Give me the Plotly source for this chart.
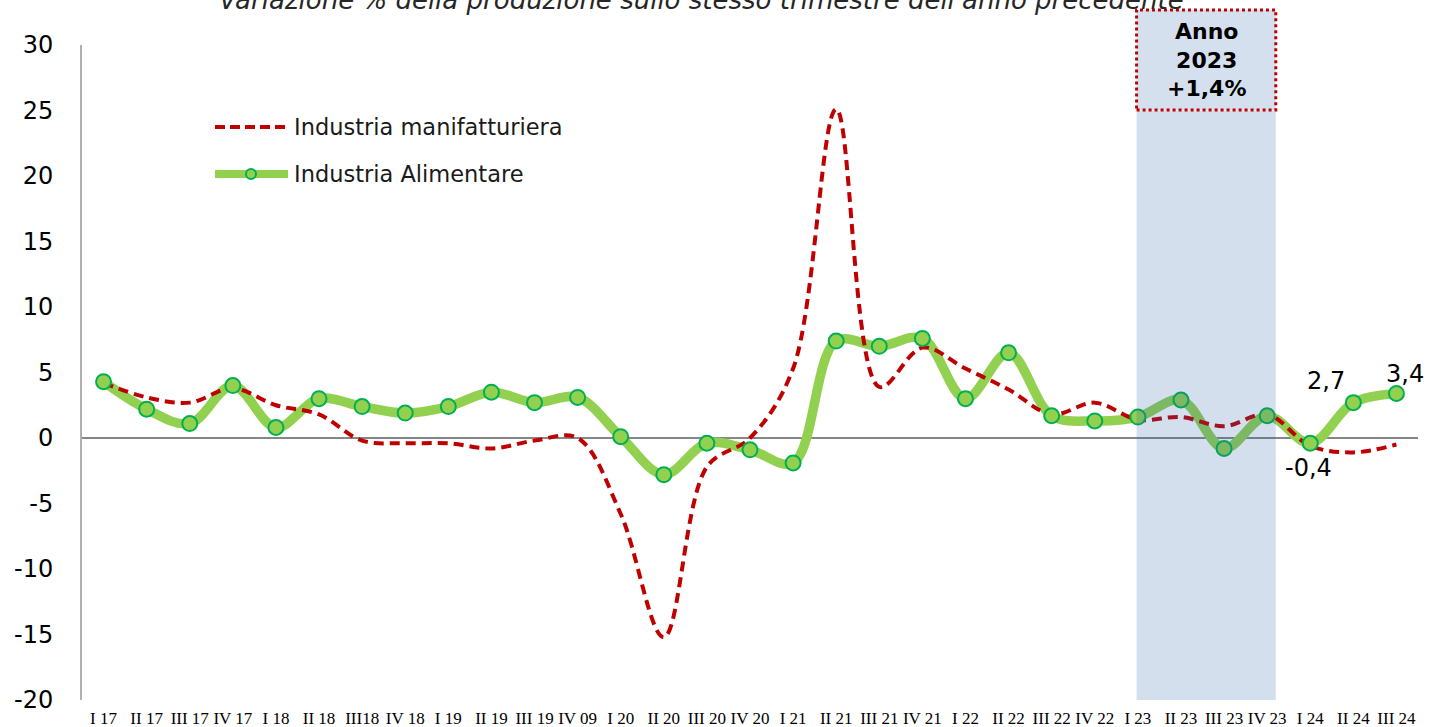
import plotly.graph_objects as go

# ---------------- data ----------------
categories = ["I 17", "II 17", "III 17", "IV 17", "I 18", "II 18", "III18", "IV 18",
              "I 19", "II 19", "III 19", "IV 09", "I 20", "II 20", "III 20", "IV 20",
              "I 21", "II 21", "III 21", "IV 21", "I 22", "II 22", "III 22", "IV 22",
              "I 23", "II 23", "III 23", "IV 23", "I 24", "II 24", "III 24"]

manifatturiera = [4.2, 3.1, 2.7, 3.8, 2.5, 1.8, -0.2, -0.4, -0.4, -0.8, -0.2, 0.0,
                  -5.8, -15.2, -2.2, 0.0, 5.3, 25.1, 3.9, 6.9, 5.3, 3.7, 1.8, 2.7,
                  1.4, 1.6, 0.9, 1.8, -0.6, -1.1, -0.5]

alimentare = [4.3, 2.2, 1.1, 4.0, 0.8, 3.0, 2.4, 1.9, 2.4, 3.5, 2.7, 3.1,
              0.1, -2.8, -0.4, -0.9, -1.9, 7.4, 7.0, 7.6, 3.0, 6.5, 1.7, 1.3,
              1.6, 2.9, -0.8, 1.7, -0.4, 2.7, 3.4]

y_tickvals = [30, 25, 20, 15, 10, 5, 0, -5, -10, -15, -20]
y_ticktext = ["30", "25", "20", "15", "10", "5", "0", "-5", "-10", "-15", "-20"]

series_names = ["Industria manifatturiera", "Industria Alimentare"]
title_text = "Variazione % della produzione sullo stesso trimestre dell'anno precedente"
box_text = "Anno<br>2023<br>+1,4%"
labelled_points = ["I 24", "II 24", "III 24"]
label_shifts = {"I 24": (-2, -25), "II 24": (-27, 22), "III 24": (9, 19)}

RED = "#C00000"
GREEN = "#92D050"
GREEN_EDGE = "#00B050"
FONT = "DejaVu Sans"

W, H = 1429, 727
ML, MR, MT, MB = 82, 11, 45, 27
PW, PH = W - ML - MR, H - MT - MB


def px(xp):
    return (xp - ML) / PW


def py(yp):
    return (H - MB - yp) / PH


fig = go.Figure()

# green thick line (below the red dashed line)
fig.add_trace(go.Scatter(x=categories, y=alimentare, mode="lines",
                         line=dict(color=GREEN, width=9.5, shape="spline", smoothing=1),
                         name=series_names[1], showlegend=False, hoverinfo="skip"))
# red dashed line
fig.add_trace(go.Scatter(x=categories, y=manifatturiera, mode="lines",
                         line=dict(color=RED, width=4, dash="10px,6px",
                                   shape="spline", smoothing=1),
                         name=series_names[0], showlegend=False))
# green markers on top
fig.add_trace(go.Scatter(x=categories, y=alimentare, mode="markers",
                         marker=dict(color=GREEN, size=15,
                                     line=dict(color=GREEN_EDGE, width=2)),
                         name=series_names[1], showlegend=False))

shapes = []
# shaded 2023 band (semi-transparent, above traces)
shapes.append(dict(type="rect", xref="x", yref="y", x0=23.97, x1=27.2, y0=-20, y1=25,
                   fillcolor="rgba(40,95,170,0.2)", line=dict(width=0), layer="above"))
# annotation box
shapes.append(dict(type="rect", xref="x", yref="paper", x0=23.97, x1=27.2,
                   y0=py(110), y1=py(10), fillcolor="#D5E0EE",
                   line=dict(color=RED, width=3, dash="dot"), layer="above"))
# custom legend
shapes.append(dict(type="line", xref="paper", yref="paper", x0=px(215), x1=px(288),
                   y0=py(127), y1=py(127), line=dict(color=RED, width=4, dash="10px,5px")))
shapes.append(dict(type="line", xref="paper", yref="paper", x0=px(215), x1=px(288),
                   y0=py(174), y1=py(174), line=dict(color=GREEN, width=8)))
shapes.append(dict(type="circle", xref="paper", yref="paper", x0=px(246), x1=px(256),
                   y0=py(179), y1=py(169), fillcolor=GREEN,
                   line=dict(color=GREEN_EDGE, width=2)))

annotations = []
annotations.append(dict(xref="paper", yref="paper", x=px(292), y=py(127), xanchor="left",
                        yanchor="middle", text=series_names[0], showarrow=False,
                        font=dict(family=FONT, size=22.5, color="#1a1a1a")))
annotations.append(dict(xref="paper", yref="paper", x=px(292), y=py(174), xanchor="left",
                        yanchor="middle", text=series_names[1], showarrow=False,
                        font=dict(family=FONT, size=22.5, color="#1a1a1a")))
annotations.append(dict(xref="paper", yref="paper", x=px(701), y=py(0), xanchor="center",
                        yanchor="middle", text="<i>" + title_text + "</i>", showarrow=False,
                        font=dict(family=FONT, size=26, color="#262626")))
annotations.append(dict(xref="x", yref="paper", x=25.6, y=py(60), xanchor="center",
                        yanchor="middle", text="<b>" + box_text + "</b>", showarrow=False,
                        font=dict(family=FONT, size=22, color="#000000")))
for cat in labelled_points:
    i = categories.index(cat)
    v = alimentare[i]
    dx, dy = label_shifts[cat]
    annotations.append(dict(xref="x", yref="y", x=cat, y=v, xanchor="center",
                            yanchor="middle", xshift=dx, yshift=dy,
                            text=f"{v:.1f}".replace(".", ","), showarrow=False,
                            font=dict(family=FONT, size=24, color="#000000")))

fig.update_layout(
    width=W, height=H,
    margin=dict(l=ML, r=MR, t=MT, b=MB, autoexpand=False),
    paper_bgcolor="white", plot_bgcolor="white",
    showlegend=False,
    shapes=shapes, annotations=annotations,
    xaxis=dict(type="category", categoryorder="array", categoryarray=categories,
               range=[-0.5, 30.5], showgrid=False, zeroline=False, showline=False,
               automargin=False,
               ticks="outside", ticklen=3, tickcolor="rgba(0,0,0,0)",
               tickfont=dict(family="Liberation Serif", size=17, color="#000000")),
    yaxis=dict(range=[-20, 30], tickvals=y_tickvals, ticktext=y_ticktext,
               automargin=False,
               showgrid=False, zeroline=True, zerolinecolor="#868686", zerolinewidth=2,
               showline=True, linecolor="#B0B0B0", linewidth=2,
               ticks="outside", ticklen=22, tickcolor="rgba(0,0,0,0)",
               tickfont=dict(family=FONT, size=24, color="#000000")),
)

fig.write_html("out.html",
               config={"displayModeBar": False},
               post_script="document.body.style.margin='0px';"
                           "document.body.style.overflow='hidden';")
